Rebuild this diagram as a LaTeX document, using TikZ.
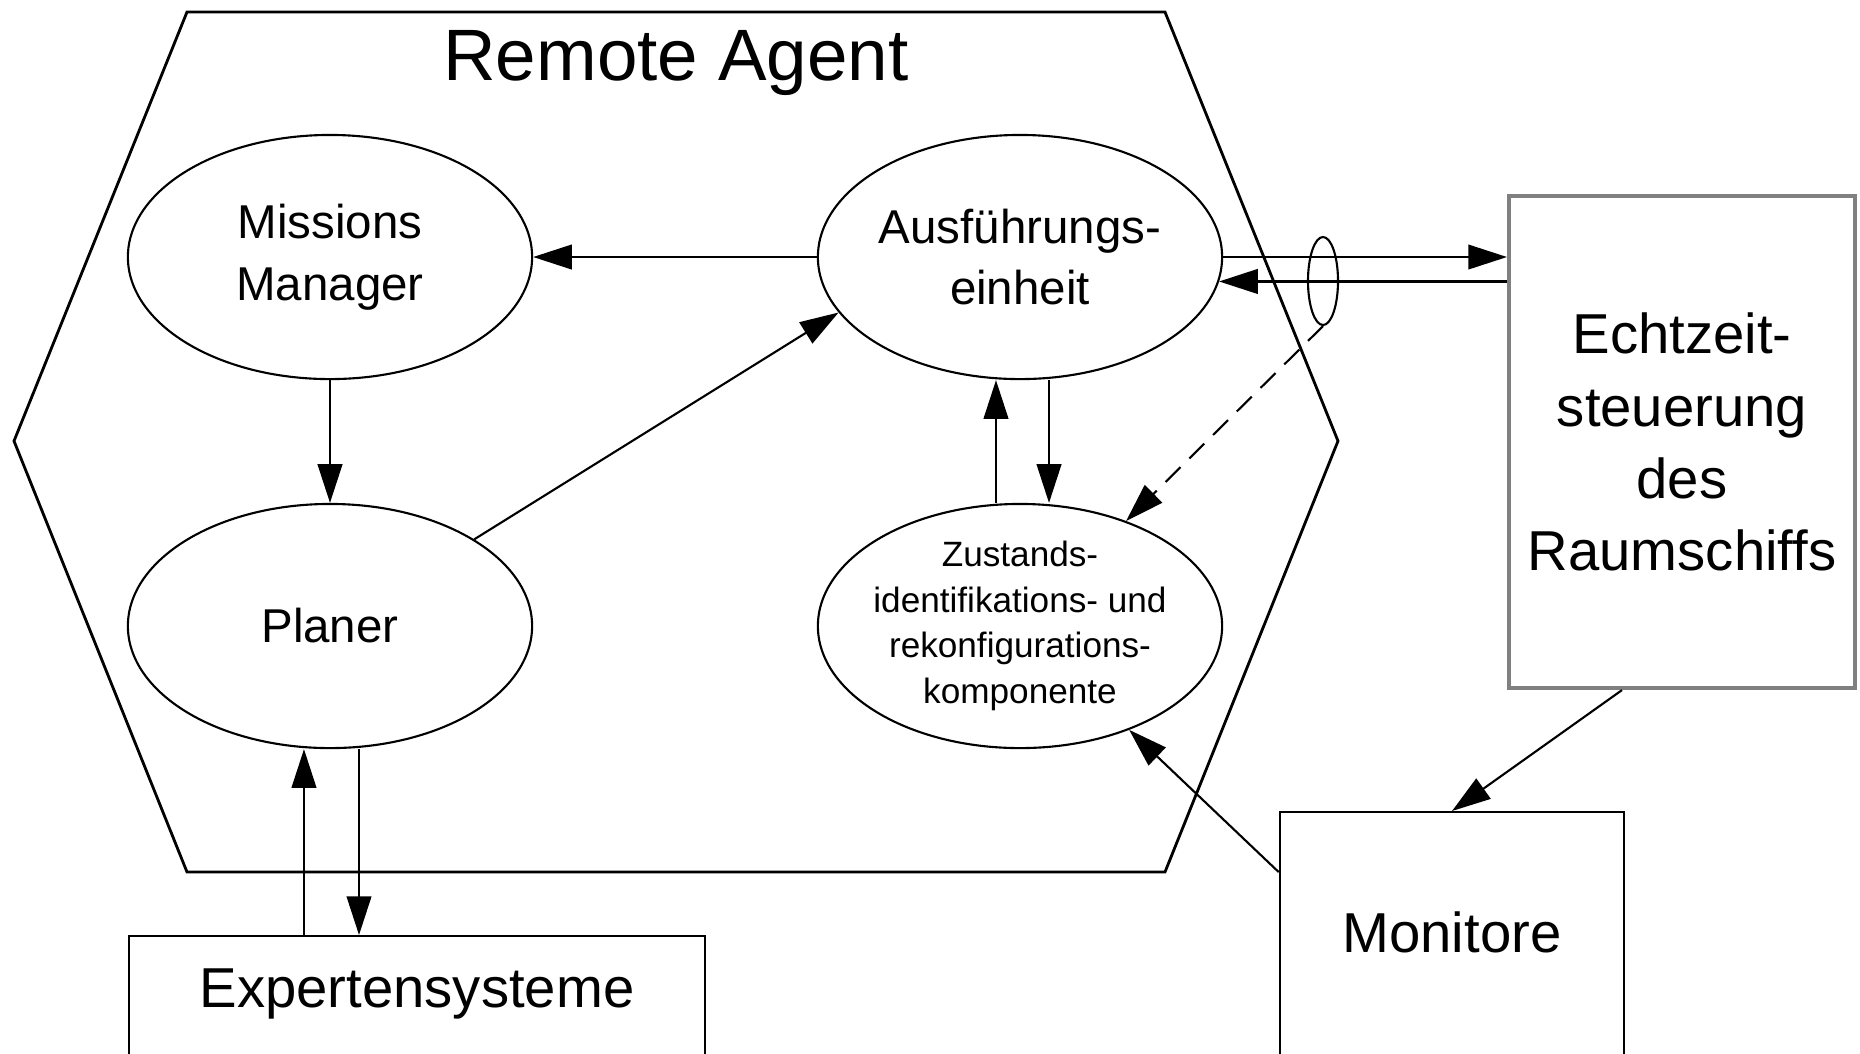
\documentclass[tikz,border=0pt]{standalone}
\usepackage{fontspec}
\setmainfont{Liberation Sans}
\usetikzlibrary{shapes.geometric,arrows.meta}

\tikzset{
  comp/.style={draw,ellipse,line width=0.6pt,minimum width=4.04cm,
    minimum height=2.44cm,inner sep=0pt,align=center,
    font=\fontsize{13.5}{17.6}\selectfont},
  unit/.style={draw,rectangle,line width=0.7pt,inner sep=0pt,align=center,
    font=\fontsize{16}{20.5}\selectfont},
  flow/.style={line width=0.6pt,-{Triangle[length=11pt,width=7pt]}},
}

\begin{document}
\begin{tikzpicture}[x=0.01cm,y=-0.01cm]
  \useasboundingbox (0,0) rectangle (1860,1053);
  \clip (0,0) rectangle (1860,1053);
  \coordinate (H1) at (187,12);
  \coordinate (H2) at (1165,12);
  \coordinate (H3) at (1338,441);
  \coordinate (H4) at (1165,872);
  \coordinate (H5) at (187,872);
  \coordinate (H6) at (14,441);
  \draw[line width=0.8pt] (H1) -- (H2) -- (H3) -- (H4) -- (H5) -- (H6) -- cycle;
  \node[font=\fontsize{20.7}{25}\selectfont] (title) at (676,63) {Remote Agent};

  \node[comp] (MM) at (330,257) {Missions\\Manager};
  \node[comp] (Ausf) at (1020,257) {Ausführungs-\\einheit};
  \node[comp] (Planer) at (330,626) {Planer};
  \node[comp,inner xsep=-0.15cm,inner ysep=-0.05cm,font=\fontsize{10}{13}\selectfont]
    (Zust) at (1020,626)
    {Zustands-\\identifikations- und\\rekonfigurations-\\komponente};
  \node[unit,draw=black!50,line width=1.1pt,minimum width=3.46cm,
    minimum height=4.92cm] (Echtzeit) at (1682,442)
    {Echtzeit-\\steuerung\\des\\Raumschiffs};
  \node[unit,anchor=north,minimum width=3.44cm,minimum height=2.7cm,
    text height=0.1cm,text depth=0cm] (Monitore) at (1452,811) {Monitore};
  \node[unit,anchor=north,minimum width=5.76cm,minimum height=1.4cm,
    text height=0.14cm,text depth=0.12cm] (Expert) at (417,935) {Expertensysteme};
  \node[draw,ellipse,line width=0.6pt,minimum width=0.3cm,minimum height=0.88cm,
    inner sep=0pt] (tap) at (1323,281) {};

  \draw[flow] (Ausf.west) -- (MM.east);
  \draw[flow] (MM.south) -- (Planer.north);
  \draw[flow] (Planer.31) -- (Ausf.197);
  \draw[flow] ([xshift=-0.24cm]Zust.north) -- ([xshift=-0.24cm]Ausf.south);
  \draw[flow] ([xshift=0.29cm]Ausf.south) -- ([xshift=0.29cm]Zust.north);
  \draw[flow] (Ausf.east) -- (Ausf.east -| Echtzeit.west);
  \draw[flow] (Echtzeit.west |- Ausf.-7) -- (Ausf.-7);
  \draw[flow,dash pattern=on 6pt off 3.5pt] (tap.south) -- (Zust);
  \draw[flow] ([xshift=-0.6cm]Echtzeit.south) -- (Monitore.north);
  \draw[flow] ([yshift=-0.61cm]Monitore.north west) -- (Zust);
  \draw[flow] ([xshift=-0.26cm]Planer.south |- Expert.north) -- ([xshift=-0.26cm]Planer.south);
  \draw[flow] ([xshift=0.29cm]Planer.south) -- ([xshift=0.29cm]Planer.south |- Expert.north);
\end{tikzpicture}
\end{document}
